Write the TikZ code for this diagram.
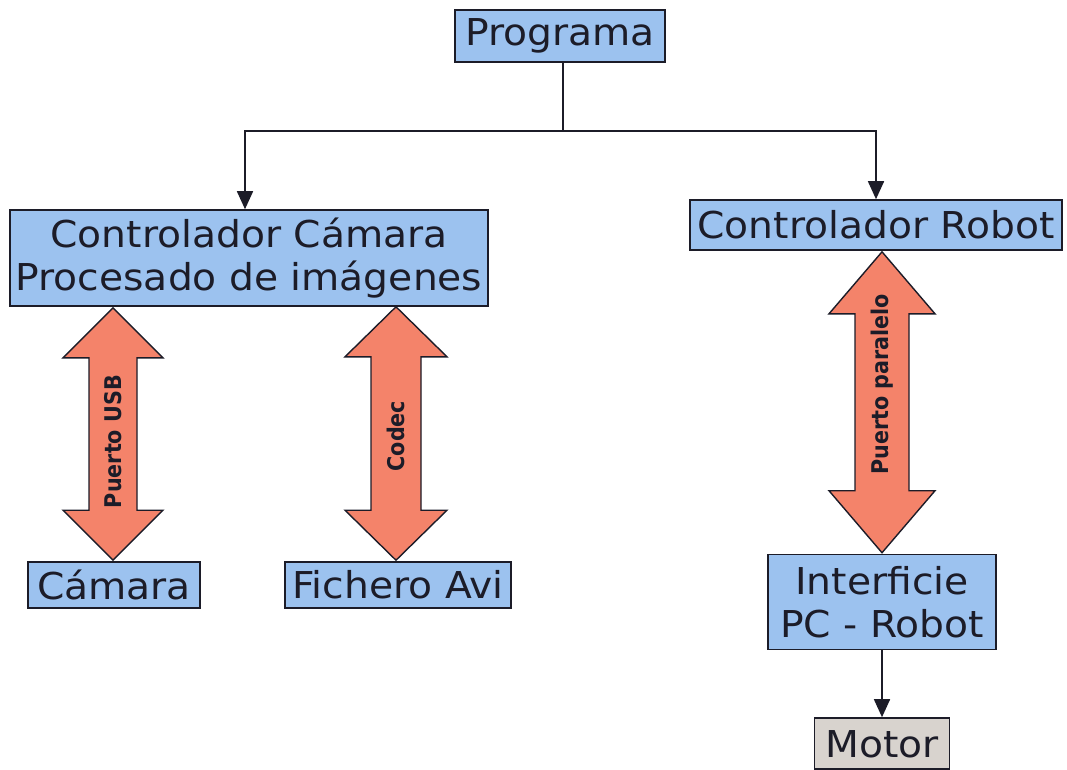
\documentclass[tikz,border=0pt]{standalone}
\usepackage{fontspec}
\setmainfont{DejaVu Sans}[FakeStretch=1.06]
\newfontfamily\condb{DejaVu Sans Condensed}
\usetikzlibrary{arrows.meta,calc}
\definecolor{boxblue}{HTML}{9CC2EF}
\definecolor{boxgrey}{HTML}{D8D3CE}
\definecolor{arrowred}{HTML}{F4836A}
\definecolor{ink}{HTML}{1C1C28}
\tikzset{
  box/.style={draw=ink, line width=1.6pt, fill=boxblue, text=ink, inner sep=0pt,
    font=\fontsize{37}{43}\selectfont, align=center},
  conn/.style={draw=ink, line width=1.6pt, -{Triangle[width=16pt,length=18pt]}},
  plain/.style={draw=ink, line width=1.6pt},
  bigarrow/.style={draw=ink, line width=1.4pt, fill=arrowred, line join=miter},
  arrlabel/.style={rotate=90, text=ink, font=\condb\bfseries\fontsize{23}{23}\selectfont}
}
% #1 top tip, #2 bottom tip, #3 head half width, #4 shaft half width, #5 head length
\newcommand{\dblarrow}[5]{%
  \path[bigarrow] let \p1=(#1), \p2=(#2) in
    (\x2,\y1) -- (\x2+#3,\y1-#5) -- (\x2+#4,\y1-#5) -- (\x2+#4,\y2+#5)
    -- (\x2+#3,\y2+#5) -- (\x2,\y2) -- (\x2-#3,\y2+#5) -- (\x2-#4,\y2+#5)
    -- (\x2-#4,\y1-#5) -- (\x2-#3,\y1-#5) -- cycle;}
\begin{document}
\begin{tikzpicture}[x=1pt,y=-1pt]
\useasboundingbox[fill=white] (0,0) rectangle (1067,769);
\begin{scope}
\clip (0,0) rectangle (1067,769);
\node[box, minimum width=210pt, minimum height=52pt] (prog) at (560,36) {Programa};
\node[box, minimum width=478pt, minimum height=96pt] (cc) at (249,258) {Controlador Cámara\\Procesado de imágenes};
\node[box, minimum width=372pt, minimum height=50pt] (cr) at (876,225) {Controlador Robot};
\node[box, minimum width=172pt, minimum height=46pt] (cam) at (114,585) {Cámara};
\node[box, minimum width=226pt, minimum height=46pt] (fich) at (398,585) {Fichero Avi};
\node[box, minimum width=228pt, minimum height=95pt] (intf) at (882,602) {Interficie\\PC - Robot};
\node[box, fill=boxgrey, minimum width=135pt, minimum height=51pt, text height=27pt, text depth=0pt] (mot) at (882,743.5) {Motor};

\coordinate (split) at ($(prog.south)+(3,68)$);
\draw[plain] (prog.south -| split) -- (split);
\draw[conn] (split) -| ($(cc.north)+(-4,0)$);
\draw[conn] (split) -| (cr.north);
\draw[conn] (intf.south) -- (mot.north);

\coordinate (usbT) at ($(cam.north |- cc.south)+(-1,1)$);
\coordinate (usbB) at ($(cam.north)+(-1,-1)$);
\coordinate (codT) at ($(fich.north |- cc.south)+(-2,0)$);
\coordinate (codB) at ($(fich.north)+(-2,-1)$);
\coordinate (parT) at ($(intf.north |- cr.south)+(0,1)$);
\coordinate (parB) at ($(intf.north)+(0,-1)$);
\dblarrow{usbT}{usbB}{50pt}{24pt}{50pt}
\dblarrow{codT}{codB}{51pt}{25pt}{50pt}
\dblarrow{parT}{parB}{53pt}{27pt}{62pt}
\node[arrlabel] (lusb) at ($(usbT)!0.53!(usbB)$) {Puerto USB};
\node[arrlabel] (lcod) at ($(codT)!0.51!(codB)$) {Codec};
\node[arrlabel] (lpar) at ($(parT)!0.44!(parB)$) {Puerto paralelo};
\end{scope}
\end{tikzpicture}
\end{document}
